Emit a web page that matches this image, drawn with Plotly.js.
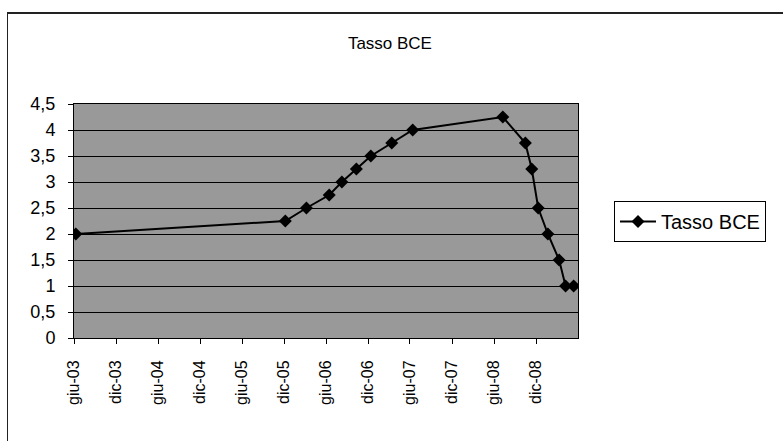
<!DOCTYPE html>
<html>
<head>
<meta charset="utf-8">
<script src="https://cdn.plot.ly/plotly-3.0.1.min.js"></script>
<style>
  html, body { margin: 0; padding: 0; background: #ffffff; }
  #chart { position: absolute; left: 0; top: 0; width: 783px; height: 441px; }
  #frame { position: absolute; left: 7px; top: 12px; width: 800px; height: 500px;
           border-top: 2px solid #222; border-left: 1px solid #222; pointer-events: none; }
</style>
</head>
<body>
<div id="chart"></div>
<div id="frame"></div>
<script>
// Data (ECB rate, "Tasso BCE")
const dates = ["2003-06-09", "2005-12-06", "2006-03-08", "2006-06-15", "2006-08-09",
               "2006-10-11", "2006-12-13", "2007-03-14", "2007-06-13", "2008-07-09",
               "2008-10-15", "2008-11-12", "2008-12-10", "2009-01-21", "2009-03-11",
               "2009-04-08", "2009-05-13"];
const rates = [2, 2.25, 2.5, 2.75, 3, 3.25, 3.5, 3.75, 4, 4.25,
               3.75, 3.25, 2.5, 2, 1.5, 1, 1];
const seriesName = "Tasso BCE";
const chartTitle = "Tasso BCE";

const xTickVals = ["2003-06-01", "2003-12-01", "2004-06-01", "2004-12-01", "2005-06-01",
                   "2005-12-01", "2006-06-01", "2006-12-01", "2007-06-01", "2007-12-01",
                   "2008-06-01", "2008-12-01"];
const xTickText = ["giu-03", "dic-03", "giu-04", "dic-04", "giu-05", "dic-05",
                   "giu-06", "dic-06", "giu-07", "dic-07", "giu-08", "dic-08"];
const yTickVals = [0, 0.5, 1, 1.5, 2, 2.5, 3, 3.5, 4, 4.5];
const yTickText = ["0", "0,5", "1", "1,5", "2", "2,5", "3", "3,5", "4", "4,5"];

const font = "Arial, 'Liberation Sans', sans-serif";

const trace = {
  x: dates,
  y: rates,
  name: seriesName,
  type: "scatter",
  mode: "lines+markers",
  line: { color: "#000000", width: 2 },
  marker: { symbol: "diamond", size: 10, color: "#000000" },
  showlegend: true
};

const layout = {
  width: 783,
  height: 441,
  margin: { l: 74, r: 205, t: 104, b: 103 },
  paper_bgcolor: "rgba(0,0,0,0)",
  plot_bgcolor: "#999999",
  font: { family: font, color: "#000000" },
  title: {
    text: chartTitle,
    font: { family: font, size: 17, color: "#000000" },
    xref: "container", x: 0.498, xanchor: "center",
    yref: "container", y: 0.903, yanchor: "middle"
  },
  xaxis: {
    type: "date",
    range: ["2003-06-01", "2009-06-01"],
    tickmode: "array",
    tickvals: xTickVals,
    ticktext: xTickText,
    tickangle: -90,
    tickfont: { family: font, size: 16, color: "#000000" },
    ticks: "outside", ticklen: 5, tickcolor: "#000000",
    showgrid: false, zeroline: false,
    showline: true, linecolor: "#000000", linewidth: 1, mirror: true,
    ticklabelstandoff: 10
  },
  yaxis: {
    range: [0, 4.5],
    tickmode: "array",
    tickvals: yTickVals,
    ticktext: yTickText,
    tickfont: { family: font, size: 18, color: "#000000" },
    ticks: "outside", ticklen: 5, tickcolor: "#000000",
    showgrid: true, gridcolor: "#000000", gridwidth: 1,
    zeroline: false,
    showline: true, linecolor: "#000000", linewidth: 1, mirror: true,
    ticklabelstandoff: 9
  },
  legend: {
    x: 1.0714, xanchor: "left",
    y: 0.585, yanchor: "top",
    bgcolor: "#ffffff",
    bordercolor: "#000000", borderwidth: 1,
    itemwidth: 36,
    font: { family: font, size: 20, color: "#000000" }
  },
  showlegend: true
};

Plotly.newPlot("chart", [trace], layout, { staticPlot: true, displayModeBar: false });
</script>
</body>
</html>
